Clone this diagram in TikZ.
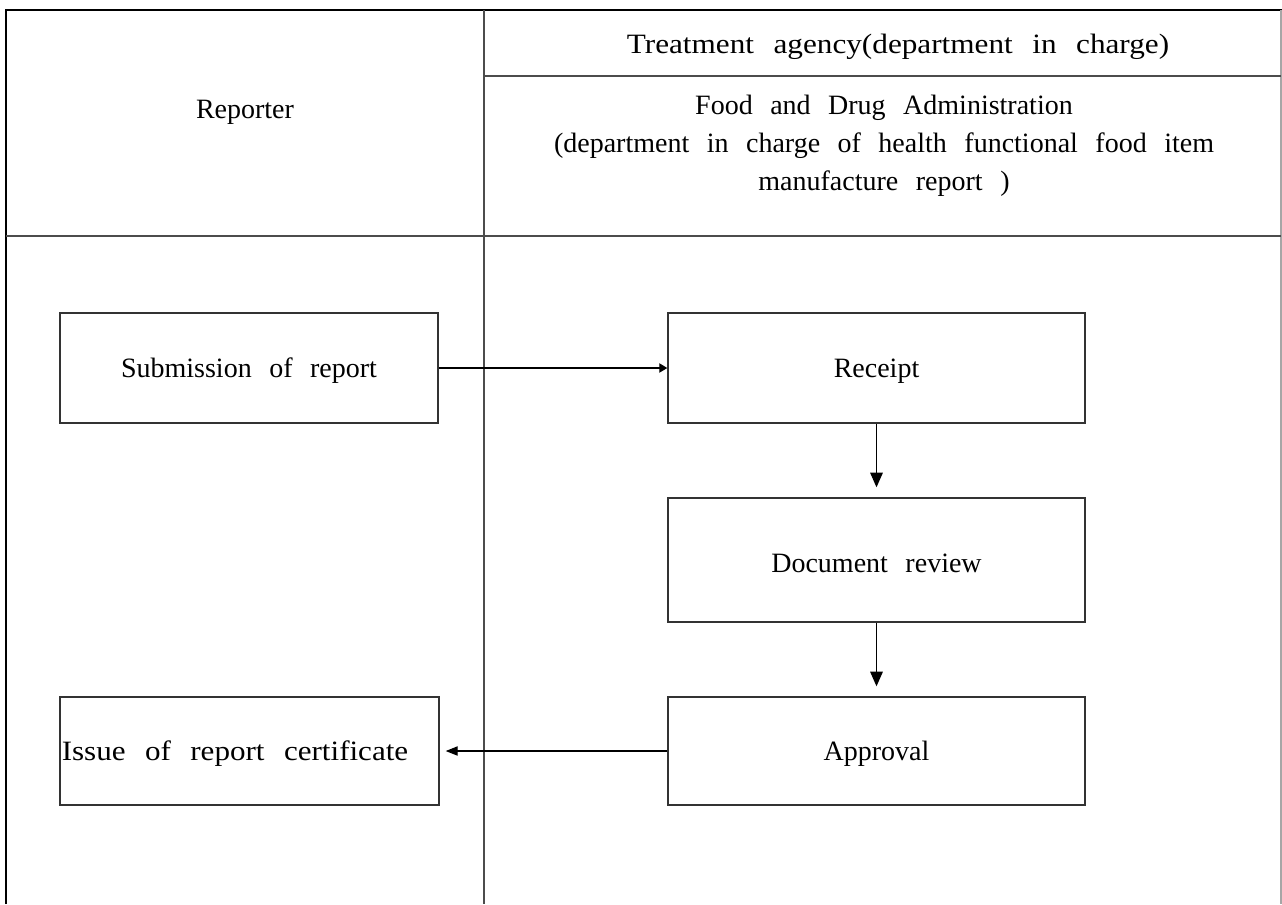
\documentclass[tikz,border=0pt]{standalone}
\usepackage{fontspec}
\usepackage{graphicx}
\setmainfont{Liberation Serif}[WordSpace=2.5]
\usetikzlibrary{arrows.meta}

\begin{document}
\begin{tikzpicture}[x=0.75pt,y=-0.75pt,
  every node/.style={font=\fontsize{21pt}{28.5pt}\selectfont, inner sep=0pt},
  frame/.style={line width=2.2pt, draw=black},
  rule/.style={line width=0.8pt, draw=black!70},
  stepbox/.style={draw=black!80, line width=1.1pt, rectangle},
  arr/.style={line width=0.8pt, draw=black},
  downtip/.style={-{Triangle[length=11pt,width=9.5pt]}},
  righttip/.style={-{Triangle[length=6pt,width=7pt]}},
  lefttip/.style={-{Triangle[length=9pt,width=7pt]}}
]
\useasboundingbox (0,0) rectangle (1282,904);
\fill[white] (0,0) rectangle (1282,904);

% table frame and rules
\draw[frame] (6,904) -- (6,10) -- (1282,10);
\draw[line width=0.8pt, draw=black!35] (1281,10) -- (1281,904);
\draw[rule] (484,10) -- (484,904);
\draw[rule] (484,76) -- (1281,76);
\draw[rule] (6,236) -- (1281,236);

% header texts
\node (reporter) at (245,112) {Reporter};
\node (agency) at (898,47) {\scalebox{1.115}[1]{Treatment agency(department in charge)}};
\node[align=center] (fda) at (884,146)
  {Food and Drug Administration\\(department in charge of health functional food item\\manufacture report )};

% process boxes
\node[stepbox, minimum width=283.5pt, minimum height=82.5pt] (sub) at (249,368) {};
\node[stepbox, minimum width=312.75pt, minimum height=82.5pt] (rec) at (876.5,368) {};
\node[stepbox, minimum width=312.75pt, minimum height=93pt] (doc) at (876.5,560) {};
\node[stepbox, minimum width=312.75pt, minimum height=81pt] (app) at (876.5,751) {};
\node[stepbox, minimum width=284.25pt, minimum height=81pt] (iss) at (249.5,751) {};

% box labels
\node (subtext) at (249,371) {Submission of report};
\node (rectext) at (876.5,371) {Receipt};
\node (doctext) at (876.5,563) {Document review};
\node (apptext) at (876.5,754) {Approval};
\node (isstext) at (235,754) {\scalebox{1.11}[1]{Issue of report certificate}};

% connectors
\draw[arr, righttip] (sub.east) -- (rec.west);
\draw[arr, downtip] (rec.south) -- ([yshift=7.5pt]doc.north);
\draw[arr, downtip] (doc.south) -- ([yshift=7.5pt]app.north);
\draw[arr, lefttip] (app.west) -- ([xshift=4.5pt]iss.east);
\end{tikzpicture}
\end{document}
